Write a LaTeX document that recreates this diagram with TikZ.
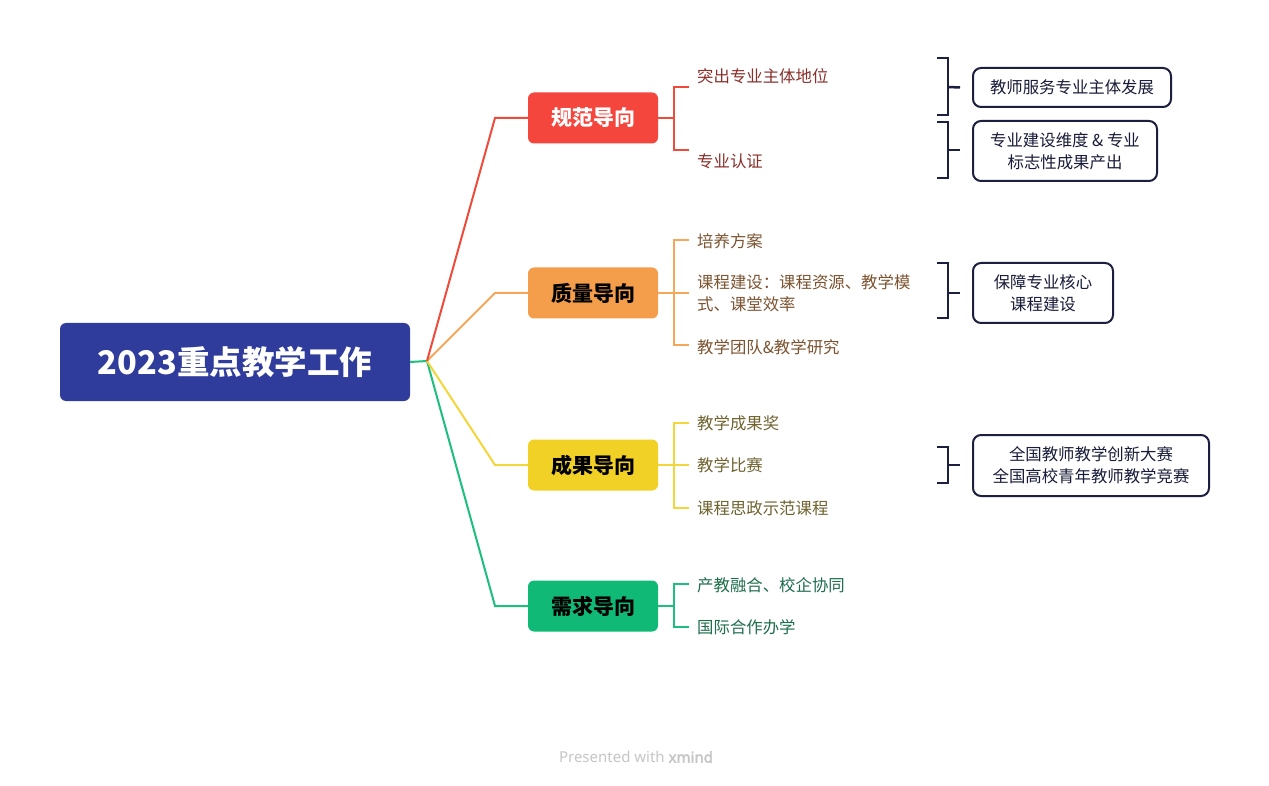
\documentclass[tikz,border=0pt]{standalone}
\usepackage{fontspec}
\setmainfont{Noto Sans CJK SC}
\newfontfamily\footfont{Noto Sans}
\newfontfamily\footboldfont{Noto Sans}[FakeBold=2.5]
\definecolor{mainblue}{HTML}{2F3C9C}
\definecolor{cred}{HTML}{F4463C}
\definecolor{lred}{HTML}{EE4B3B}
\definecolor{corange}{HTML}{F49E4C}
\definecolor{lorange}{HTML}{F5A75A}
\definecolor{cyellow}{HTML}{F2D126}
\definecolor{lyellow}{HTML}{F2D63A}
\definecolor{cgreen}{HTML}{10BA76}
\definecolor{lgreen}{HTML}{1DBF7E}
\definecolor{tred}{HTML}{8A2F2A}
\definecolor{torange}{HTML}{7C5431}
\definecolor{tyellow}{HTML}{6F6330}
\definecolor{tgreen}{HTML}{1E6E4C}
\definecolor{navy}{HTML}{1C1F3F}
\definecolor{footgray}{HTML}{C6C6C6}
\begin{document}
\begin{tikzpicture}[x=1pt,y=-1pt,
  mainnode/.style={rectangle, rounded corners=6pt, fill=mainblue, text=white,
    font=\fontsize{32.5}{36}\selectfont\bfseries, minimum width=350pt, minimum height=78pt, inner sep=0pt},
  branch/.style={rectangle, rounded corners=6pt, minimum width=130pt, minimum height=51pt,
    font=\fontsize{21}{24}\selectfont\bfseries, inner sep=0pt},
  leaf/.style={anchor=west, inner sep=0pt, font=\fontsize{16.4}{22}\selectfont, align=left},
  sumbox/.style={draw=navy, line width=2pt, rounded corners=8pt, inner sep=0pt,
    font=\fontsize{16.4}{22}\selectfont, align=center, text=navy!90!black},
  bracket/.style={draw=navy, line width=2.5pt},
  link/.style={line width=2pt}
]
\useasboundingbox (0,0) rectangle (1269,786);
\fill[white] (0,0) rectangle (1269,786);

% main node and junction
\node[mainnode] (main) at (235,362) {2023重点教学工作};
\coordinate (J) at (427,361);

% branch nodes
\node[branch, fill=cred, text=white] (b1) at (593,118) {规范导向};
\node[branch, fill=corange, text=black] (b2) at (593,293) {质量导向};
\node[branch, fill=cyellow, text=black] (b3) at (593,465) {成果导向};
\node[branch, fill=cgreen, text=black] (b4) at (593,606) {需求导向};

\coordinate (k1) at (495,118);
\coordinate (k2) at (495,293);
\coordinate (k3) at (495,465);
\coordinate (k4) at (495,606);

\draw[link, lgreen] (main.east) -- (J);
\draw[link, lgreen] (J) -- (k4) -- (b4.west);
\draw[link, lyellow] (J) -- (k3) -- (b3.west);
\draw[link, lorange] (J) -- (k2) -- (b2.west);
\draw[link, lred] (J) -- (k1) -- (b1.west);

% leaves branch 1
\node[leaf, text=tred] (l11) at (697,76) {突出专业主体地位};
\node[leaf, text=tred] (l12) at (697,161) {专业认证};
\coordinate (v1) at (674,118);
\draw[link, lred] (b1.east) -- (v1);
\draw[link, lred] (689,87) -- (674,87) -- (674,150) -- (689,150);

% leaves branch 2
\node[leaf, text=torange] (l21) at (697,241) {培养方案};
\node[leaf, text=torange] (l22) at (697,293) {课程建设：课程资源、教学模\\式、课堂效率};
\node[leaf, text=torange] (l23) at (697,347) {教学团队\&教学研究};
\coordinate (v2) at (674,293);
\draw[link, lorange] (b2.east) -- (v2);
\draw[link, lorange] (689,240) -- (674,240) -- (674,345) -- (689,345);
\draw[link, lorange] (v2) -- (689,293);

% leaves branch 3
\node[leaf, text=tyellow] (l31) at (697,423) {教学成果奖};
\node[leaf, text=tyellow] (l32) at (697,465) {教学比赛};
\node[leaf, text=tyellow] (l33) at (697,508) {课程思政示范课程};
\coordinate (v3) at (674,465);
\draw[link, lyellow] (b3.east) -- (v3);
\draw[link, lyellow] (689,423) -- (674,423) -- (674,508) -- (689,508);
\draw[link, lyellow] (v3) -- (689,465);

% leaves branch 4
\node[leaf, text=tgreen] (l41) at (697,585) {产教融合、校企协同};
\node[leaf, text=tgreen] (l42) at (697,627) {国际合作办学};
\coordinate (v4) at (674,606);
\draw[link, lgreen] (b4.east) -- (v4);
\draw[link, lgreen] (689,584) -- (674,584) -- (674,627) -- (689,627);

% summary boxes
\node[sumbox, minimum width=198pt, minimum height=39pt] (s1) at (1072,87.5) {教师服务专业主体发展};
\node[sumbox, minimum width=184pt, minimum height=60pt] (s2) at (1065,151) {专业建设维度 \& 专业\\标志性成果产出};
\node[sumbox, minimum width=140pt, minimum height=60pt] (s3) at (1043,293) {保障专业核心\\课程建设};
\node[sumbox, minimum width=236pt, minimum height=61pt] (s4) at (1091,465.5) {全国教师教学创新大赛\\全国高校青年教师教学竞赛};

% summary brackets
\draw[bracket] (937,58) -- (948,58) -- (948,115) -- (937,115);
\draw[bracket] (948,87) -- ([xshift=-12pt]s1.west);
\draw[bracket] (937,122) -- (948,122) -- (948,178) -- (937,178);
\draw[bracket] (948,150) -- ([xshift=-12pt]s2.west |- 0,150);
\draw[bracket] (937,263) -- (948,263) -- (948,318) -- (937,318);
\draw[bracket] (948,293) -- ([xshift=-12pt]s3.west);
\draw[bracket] (937,447) -- (948,447) -- (948,483) -- (937,483);
\draw[bracket] (948,465) -- ([xshift=-12pt]s4.west |- 0,465);

% footer
\node[font=\footfont\fontsize{15}{17}\selectfont, text=footgray] (foot) at (636,757) {Presented with {\footboldfont xmind}};
\end{tikzpicture}
\end{document}
